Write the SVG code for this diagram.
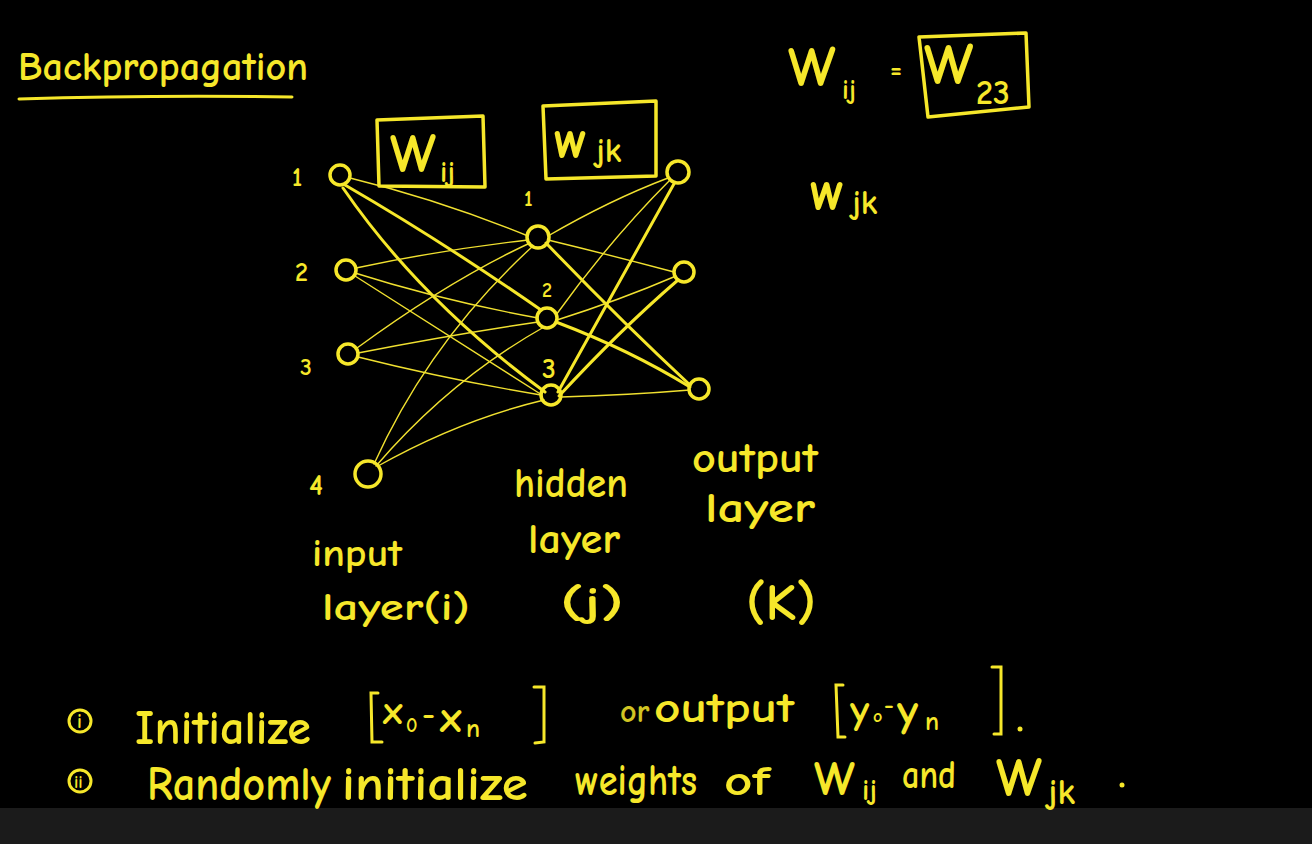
<svg xmlns="http://www.w3.org/2000/svg" width="1312" height="844" viewBox="0 0 1312 844">
<defs>
<style>
.t{fill:#f6e72a;font-family:"Comic Neue","Liberation Sans",sans-serif;font-weight:bold;}
.n{fill:none;stroke:#f6e72a;stroke-width:3.5;}
.c{fill:none;stroke:#f0e030;stroke-width:1.4;stroke-linecap:round;}
.ck{fill:none;stroke:#f6e72a;stroke-width:3;stroke-linecap:round;}
.box{fill:none;stroke:#f6e72a;stroke-width:3.5;stroke-linejoin:round;}
</style>
</defs>
<rect x="0" y="0" width="1312" height="844" fill="#000"/>
<rect x="0" y="808" width="1312" height="36" fill="#1b1b1b"/>

<g id="title">
<text class="t" x="18" y="80" font-size="40" textLength="290" lengthAdjust="spacingAndGlyphs">Backpropagation</text>
<path class="ck" d="M19 99 Q150 95 292 97"/>
</g>

<g id="connectors">
<path class="c" d="M350 178 Q440 200 528 236"/>
<path class="ck" d="M345 185 Q440 240 541 310"/>
<path class="ck" d="M343 188 Q420 300 545 392"/>
<path class="c" d="M356 268 Q440 250 528 240"/>
<path class="c" d="M355 273 Q440 300 538 318"/>
<path class="c" d="M355 276 Q440 330 542 395"/>
<path class="c" d="M357 348 Q450 280 530 243"/>
<path class="c" d="M358 353 Q450 335 538 322"/>
<path class="c" d="M358 357 Q450 380 541 395"/>
<path class="c" d="M374 464 Q430 340 533 246"/>
<path class="c" d="M376 466 Q450 380 544 327"/>
<path class="c" d="M378 466 Q460 420 544 400"/>
<path class="c" d="M548 236 Q610 200 668 178"/>
<path class="c" d="M548 240 Q610 255 674 272"/>
<path class="ck" d="M546 243 Q620 320 690 385"/>
<path class="c" d="M556 315 Q610 240 670 180"/>
<path class="c" d="M557 320 Q620 300 676 276"/>
<path class="ck" d="M556 322 Q630 350 690 387"/>
<path class="ck" d="M558 392 Q620 280 675 182"/>
<path class="ck" d="M559 396 Q620 330 678 280"/>
<path class="c" d="M561 397 Q630 395 690 390"/>
</g>

<g id="input-1"><circle class="n" cx="340" cy="175" r="10"/><text class="t" x="292" y="186" font-size="26">1</text></g>
<g id="input-2"><circle class="n" cx="346" cy="270" r="10"/><text class="t" x="295" y="281" font-size="26">2</text></g>
<g id="input-3"><circle class="n" cx="348" cy="354" r="10"/><text class="t" x="300" y="375" font-size="24">3</text></g>
<g id="input-4"><circle class="n" cx="368" cy="474" r="13"/><text class="t" x="309" y="495" font-size="30">4</text></g>

<g id="hidden-1"><circle class="n" cx="538" cy="237" r="11"/><text class="t" x="524" y="206" font-size="22">1</text></g>
<g id="hidden-2"><circle class="n" cx="547" cy="318" r="10"/><text class="t" x="542" y="297" font-size="20">2</text></g>
<g id="hidden-3"><circle class="n" cx="551" cy="395" r="10"/><text class="t" x="542" y="378" font-size="28">3</text></g>

<g id="output-1"><circle class="n" cx="678" cy="172" r="11"/></g>
<g id="output-2"><circle class="n" cx="684" cy="272" r="10"/></g>
<g id="output-3"><circle class="n" cx="699" cy="389" r="10"/></g>

<g id="wij-box">
<path class="box" d="M377 120 L483 116 L485 187 L379 186 Z"/>
<text class="t" x="390" y="172" font-size="54">W</text>
<text class="t" x="440" y="182" font-size="30">ij</text>
</g>
<g id="wjk-box">
<path class="box" d="M543 106 L656 101 L656 176 L546 179 Z"/>
<text class="t" x="554" y="158" font-size="54">w</text>
<text class="t" x="596" y="162" font-size="34">jk</text>
</g>

<g id="w23">
<text class="t" x="788" y="86" font-size="56">W</text>
<text class="t" x="842" y="99" font-size="28">ij</text>
<text class="t" x="890" y="78" font-size="26">=</text>
<path class="box" d="M919 37 L1026 33 L1029 107 L928 117 Z"/>
<text class="t" x="924" y="84" font-size="58">W</text>
<text class="t" x="976" y="104" font-size="34">23</text>
</g>

<g id="wjk-right">
<text class="t" x="810" y="210" font-size="56">w</text>
<text class="t" x="852" y="214" font-size="34">jk</text>
</g>

<g id="layer-labels">
<text class="t" x="312" y="566" font-size="38" textLength="90" lengthAdjust="spacingAndGlyphs">input</text>
<text class="t" x="322" y="620" font-size="38" textLength="148" lengthAdjust="spacingAndGlyphs">layer(i)</text>
<text class="t" x="514" y="497" font-size="42" textLength="114" lengthAdjust="spacingAndGlyphs">hidden</text>
<text class="t" x="528" y="553" font-size="42" textLength="92" lengthAdjust="spacingAndGlyphs">layer</text>
<text class="t" x="560" y="617" font-size="42" textLength="64" lengthAdjust="spacingAndGlyphs">(j)</text>
<text class="t" x="692" y="472" font-size="42" textLength="126" lengthAdjust="spacingAndGlyphs">output</text>
<text class="t" x="705" y="522" font-size="42" textLength="110" lengthAdjust="spacingAndGlyphs">layer</text>
<text class="t" x="746" y="620" font-size="52" textLength="70" lengthAdjust="spacingAndGlyphs">(K)</text>
</g>

<g id="steps">
<circle class="n" cx="80" cy="721" r="11" style="stroke-width:3"/>
<text class="t" x="77" y="728" font-size="20">i</text>
<text class="t" x="135" y="744" font-size="48" textLength="176" lengthAdjust="spacingAndGlyphs">Initialize</text>
<path class="ck" d="M378 693 L371 693 L372 742 L382 742"/>
<text class="t" x="383" y="724" font-size="40">x</text><text class="t" x="406" y="732" font-size="20">0</text>
<text class="t" x="422" y="724" font-size="32">-</text>
<text class="t" x="440" y="732" font-size="44">x</text><text class="t" x="466" y="737" font-size="26">n</text>
<path class="ck" d="M534 687 L544 687 L544 742 L535 743"/>
<text class="t" x="620" y="722" font-size="32" opacity="0.85">or</text>
<text class="t" x="654" y="722" font-size="42" textLength="140" lengthAdjust="spacingAndGlyphs">output</text>
<path class="ck" d="M843 685 L836 685 L838 737 L845 737"/>
<text class="t" x="850" y="724" font-size="42">y</text><text class="t" x="873" y="722" font-size="18">o</text>
<text class="t" x="884" y="713" font-size="24">-</text>
<text class="t" x="897" y="726" font-size="46">y</text><text class="t" x="925" y="730" font-size="26">n</text>
<path class="ck" d="M992 667 L1001 667 L1001 734 L994 734"/>
<circle cx="1020" cy="729" r="2.5" fill="#f6e72a"/>
<circle class="n" cx="80" cy="781" r="11" style="stroke-width:3"/>
<text class="t" x="74" y="788" font-size="18">ii</text>
<text class="t" x="147" y="800" font-size="48" textLength="184" lengthAdjust="spacingAndGlyphs">Randomly</text>
<text class="t" x="342" y="800" font-size="48" textLength="186" lengthAdjust="spacingAndGlyphs">initialize</text>
<text class="t" x="575" y="795" font-size="44" textLength="122" lengthAdjust="spacingAndGlyphs">weights</text>
<text class="t" x="724" y="795" font-size="42" textLength="46" lengthAdjust="spacingAndGlyphs">of</text>
<text class="t" x="814" y="795" font-size="48">W</text>
<text class="t" x="862" y="800" font-size="30">ij</text>
<text class="t" x="902" y="788" font-size="40" textLength="54" lengthAdjust="spacingAndGlyphs">and</text>
<text class="t" x="996" y="796" font-size="54">W</text>
<text class="t" x="1048" y="804" font-size="36">jk</text>
<circle cx="1122" cy="785" r="2.5" fill="#f6e72a"/>
</g>
</svg>
